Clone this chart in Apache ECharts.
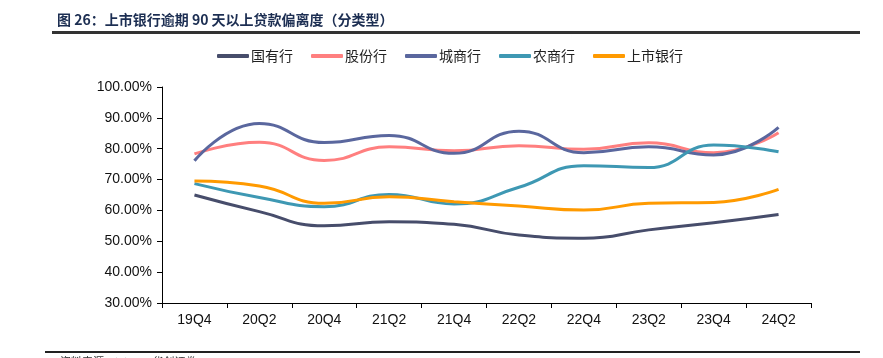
<!DOCTYPE html>
<html><head><meta charset="utf-8">
<script src="https://cdn.jsdelivr.net/npm/echarts@6/dist/echarts.min.js"></script>
<style>html,body{margin:0;padding:0;background:#fff}#c{width:883px;height:358px}</style>
</head><body><div id="c"></div>
<script>
const categories = ['19Q4','20Q2','20Q4','21Q2','21Q4','22Q2','22Q4','23Q2','23Q4','24Q2'];
const guoyou  = [65.0, 59.6, 55.0, 56.3, 55.5, 52.0, 51.0, 53.7, 56.0, 58.7];
const gufen   = [78.3, 82.1, 76.2, 80.6, 79.3, 81.0, 79.8, 81.9, 78.7, 85.2];
const chengshang = [76.1, 88.2, 82.0, 84.3, 78.5, 85.7, 78.7, 80.6, 78.0, 86.9];
const nongshang  = [68.7, 64.2, 61.2, 65.2, 62.1, 67.5, 74.5, 73.9, 81.2, 79.0];
const shangshi   = [69.5, 67.9, 62.3, 64.4, 62.8, 61.4, 60.1, 62.3, 62.6, 66.8];
const seriesNames = ['国有行','股份行','城商行','农商行','上市银行'];
const colors = ['#474d6b','#ff7f7f','#5a679e','#3e98b3','#ff9a00'];
const yTicks = {min:30, max:100, interval:10};
const titleText = '图 26：上市银行逾期 90 天以上贷款偏离度（分类型）';
const sourceText = '资料来源：iFinD，华创证券';

const chart = echarts.init(document.getElementById('c'));
const dataSets = [guoyou, gufen, chengshang, nongshang, shangshi];
chart.setOption({
  animation:false,
  graphic:[
    {type:'text', left:57, top:13, style:{text:titleText, font:'bold 14px "Noto Sans CJK SC"', fill:'#1c2e52'}},
    {type:'rect', shape:{x:52,y:31,width:808,height:3}, style:{fill:'#333'}},
    {type:'rect', shape:{x:45,y:351,width:815,height:2}, style:{fill:'#222'}},
    {type:'text', left:60, top:356, style:{text:sourceText, font:'11px "Noto Sans CJK SC"', fill:'#333'}}
  ],
  legend:{
    top:44, left:212, itemWidth:32, itemHeight:4, itemGap:18,
    icon:'roundRect',
    textStyle:{fontSize:14, color:'#222', fontFamily:'"Noto Sans CJK SC"', padding:[0,0,0,-3]},
    data:seriesNames
  },
  grid:{left:162, right:72, top:87, bottom:55},
  xAxis:{
    type:'category', data:categories, boundaryGap:true,
    axisLine:{lineStyle:{color:'#000', width:1}},
    axisTick:{show:true, length:5, lineStyle:{color:'#000'}},
    axisLabel:{fontSize:14, color:'#111', fontFamily:'"Liberation Sans Narrow", "Liberation Sans", Arial', margin:10}
  },
  yAxis:{
    type:'value', min:yTicks.min, max:yTicks.max, interval:yTicks.interval,
    axisLine:{show:true, lineStyle:{color:'#000', width:1}},
    axisTick:{show:true, length:5, lineStyle:{color:'#000'}},
    splitLine:{show:false},
    axisLabel:{fontSize:14, color:'#111', fontFamily:'"Liberation Sans", Arial', margin:10,
      formatter:v=>v.toFixed(2)+'%'}
  },
  series: dataSets.map((d,i)=>({
    name:seriesNames[i], type:'line', data:d, smooth:0.5, symbol:'none',
    lineStyle:{width:3, color:colors[i]}, itemStyle:{color:colors[i]}
  }))
});
</script></body></html>
